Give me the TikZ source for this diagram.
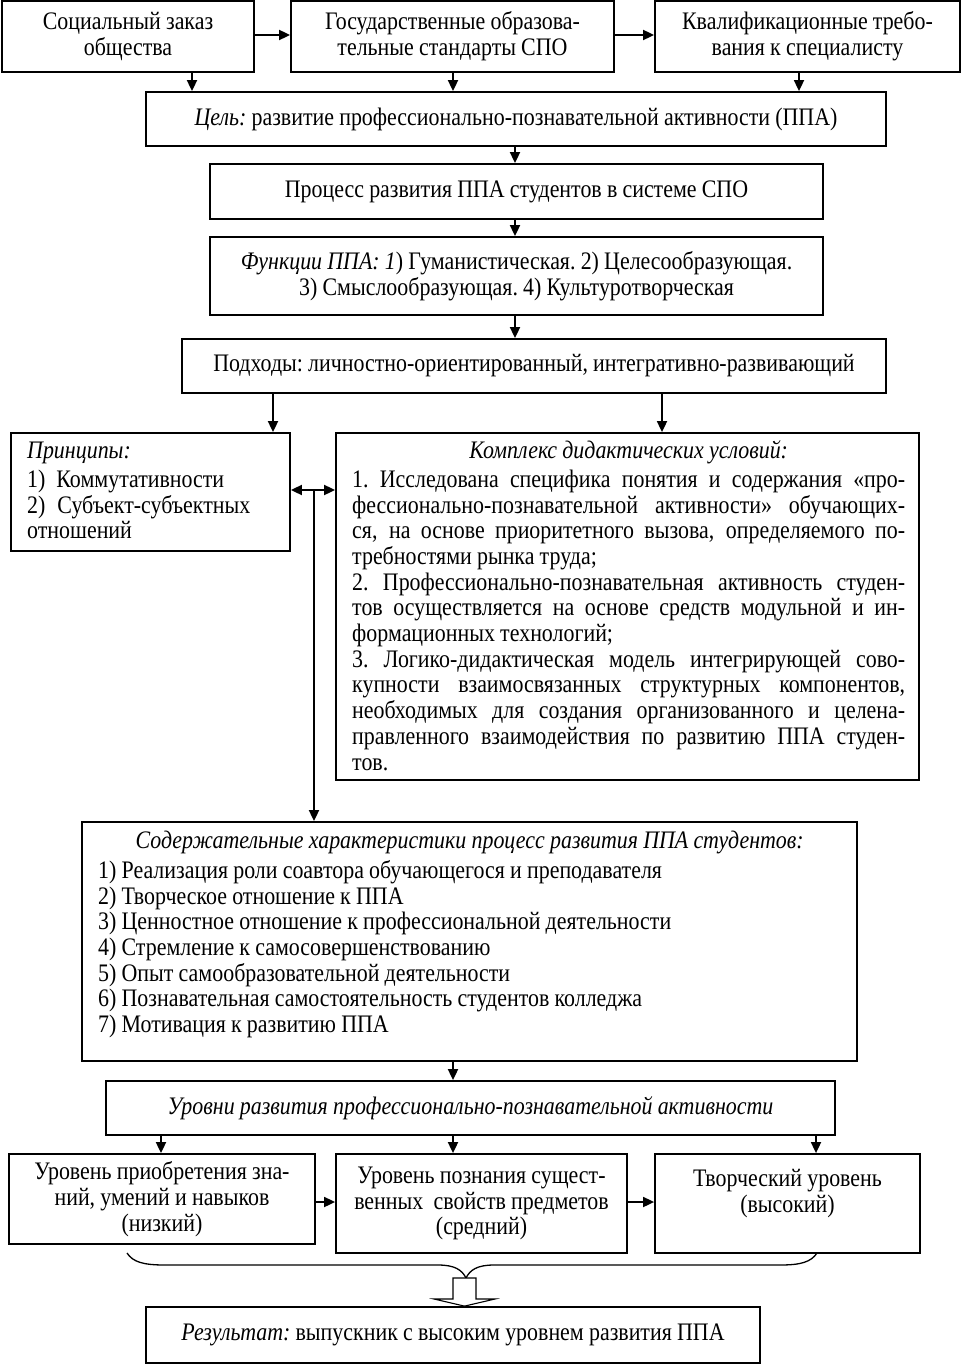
\documentclass[tikz,border=0pt]{standalone}
\usepackage{fontspec}
\setmainfont{Liberation Serif}[FakeStretch=0.87]
\usetikzlibrary{arrows.meta}
\newcommand\jline[2]{\makebox[#1][s]{#2}}
\newcommand\diagfont{\fontsize{25.2}{25.7}\selectfont\spaceskip=5.2pt plus 3pt minus 1.5pt\xspaceskip=5.2pt plus 3pt minus 1.5pt\relax}
\begin{document}
\begin{tikzpicture}[x=1pt,y=-1pt,
  every node/.style={font=\diagfont},
  box/.style={draw, line width=1.8pt, inner sep=0pt, align=center},
  txt/.style={inner sep=0pt, align=left, anchor=north west},
  arr/.style={line width=1.8pt, -{Triangle[length=11pt,width=10pt]}},
  darr/.style={line width=1.8pt, {Triangle[length=11pt,width=10pt]}-{Triangle[length=11pt,width=10pt]}},
  brace/.style={line width=1.3pt},
  hollow/.style={line width=1.1pt, fill=white, line join=miter}
]
\useasboundingbox (0,0) rectangle (963,1364);

% top row
\node[box, minimum width=252pt, minimum height=71pt] (A) at (128,36.5) {Социальный заказ\\общества};
\node[box, minimum width=323pt, minimum height=71pt] (B) at (452.5,36.5) {Государственные образова-\\тельные стандарты СПО};
\node[box, minimum width=305pt, minimum height=71pt] (C) at (807.5,36.5) {Квалификационные требо-\\вания к специалисту};

\node[box, minimum width=740pt, minimum height=54pt] (Goal) at (516,119) {\textit{Цель:} развитие профессионально-познавательной активности (ППА)};
\node[box, minimum width=613pt, minimum height=55pt] (Proc) at (516.5,191.5) {Процесс развития ППА студентов в системе СПО};
\node[box, minimum width=613pt, minimum height=78pt] (Func) at (516.5,276) {\textit{Функции ППА: 1}) Гуманистическая. 2) Целесообразующая.\\3) Смыслообразующая. 4) Культуротворческая};
\node[box, minimum width=704pt, minimum height=54pt] (Appr) at (534,366) {Подходы: личностно-ориентированный, интегративно-развивающий};

% principles and conditions
\node[box, minimum width=279pt, minimum height=118pt] (Princ) at (150.5,492) {};
\node[txt, text width=254pt] (PrincT) at (27,440) {\diagfont\strut\textit{Принципы:}\\[3.5pt]
1)\hspace{11pt}Коммутативности\\
2)\hspace{12pt}Субъект-субъектных\\
отношений};

\node[box, minimum width=583pt, minimum height=347pt] (Compl) at (627.5,606.5) {};
\node[txt, text width=553pt] (ComplT) at (352,440) {\diagfont\strut\makebox[553pt]{\textit{Комплекс дидактических условий:}}\\[3.5pt]
\jline{553pt}{1. Исследована специфика понятия и содержания «про-}\\
\jline{553pt}{фессионально-познавательной активности» обучающих-}\\
\jline{553pt}{ся, на основе приоритетного вызова, определяемого по-}\\
требностями рынка труда;\\
\jline{553pt}{2. Профессионально-познавательная активность студен-}\\
\jline{553pt}{тов осуществляется на основе средств модульной и ин-}\\
формационных технологий;\\
\jline{553pt}{3. Логико-дидактическая модель интегрирующей сово-}\\
\jline{553pt}{купности взаимосвязанных структурных компонентов,}\\
\jline{553pt}{необходимых для создания организованного и целена-}\\
\jline{553pt}{правленного взаимодействия по развитию ППА студен-}\\
тов.};

% content
\node[box, minimum width=775pt, minimum height=239pt] (Cont) at (469.5,941.5) {};
\node[txt, text width=743pt] (ContT) at (98,830) {\diagfont\strut\makebox[743pt]{\textit{Содержательные характеристики процесс развития ППА студентов:}}\\[3.5pt]
1) Реализация роли соавтора обучающегося и преподавателя\\
2) Творческое отношение к ППА\\
3) Ценностное отношение к профессиональной деятельности\\
4) Стремление к самосовершенствованию\\
5) Опыт самообразовательной деятельности\\
6) Познавательная самостоятельность студентов колледжа\\
7) Мотивация к развитию ППА};

% levels
\node[box, minimum width=729pt, minimum height=54pt] (Lev) at (470.5,1108) {\textit{Уровни развития профессионально-познавательной активности}};
\node[box, minimum width=306pt, minimum height=90pt] (L1) at (162,1199) {Уровень приобретения зна-\\ний, умений и навыков\\(низкий)};
\node[box, minimum width=291pt, minimum height=99pt] (L2) at (481.5,1203.5) {Уровень познания сущест-\\венных\ \ свойств предметов\\(средний)};
\node[box, minimum width=265pt, minimum height=99pt] (L3) at (787.5,1203.5) {Творческий уровень\\(высокий)\\\mbox{}};

\node[box, minimum width=614pt, minimum height=56pt] (Res) at (453,1335) {\textit{Результат:} выпускник с высоким уровнем развития ППА};

% connectors
\draw[arr] (A.east |- 0,35) -- (B.west |- 0,35);
\draw[arr] (B.east |- 0,35) -- (C.west |- 0,35);
\draw[arr] (A.south -| 192,0) -- (Goal.north -| 192,0);
\draw[arr] (B.south -| 453,0) -- (Goal.north -| 453,0);
\draw[arr] (C.south -| 799,0) -- (Goal.north -| 799,0);
\draw[arr] (Goal.south -| 515,0) -- (Proc.north -| 515,0);
\draw[arr] (Proc.south -| 515,0) -- (Func.north -| 515,0);
\draw[arr] (Func.south -| 515,0) -- (Appr.north -| 515,0);
\draw[arr] (Appr.south -| 273,0) -- (Princ.north -| 273,0);
\draw[arr] (Appr.south -| 662,0) -- (Compl.north -| 662,0);
\draw[darr] (Princ.east |- 0,490) -- (Compl.west |- 0,490);
\coordinate (J) at (314,490);
\draw[arr] (J) -- (Cont.north -| J);
\draw[arr] (Cont.south -| 453,0) -- (Lev.north -| 453,0);
\draw[arr] (Lev.south -| 161,0) -- (L1.north -| 161,0);
\draw[arr] (Lev.south -| 453,0) -- (L2.north -| 453,0);
\draw[arr] (Lev.south -| 816,0) -- (L3.north -| 816,0);
\draw[arr] (L1.east |- 0,1202) -- (L2.west |- 0,1202);
\draw[arr] (L2.east |- 0,1202) -- (L3.west |- 0,1202);

% brace and block arrow
\coordinate (BL) at (127,1253);
\coordinate (BR) at (817,1253);
\coordinate (BT) at (466,1278);
\draw[brace] (BL) .. controls (133,1262) and (143,1265) .. (165,1265) -- (438,1265) .. controls (455,1265) and (462,1270) .. (BT);
\draw[brace] (BR) .. controls (811,1262) and (801,1265) .. (780,1265) -- (494,1265) .. controls (477,1265) and (470,1270) .. (BT);
\draw[hollow] (453,1278) -- (476,1278) -- (476,1299) -- (495,1299) -- (Res.north -| 464.5,0) -- (434,1299) -- (453,1299) -- cycle;
\end{tikzpicture}
\end{document}
